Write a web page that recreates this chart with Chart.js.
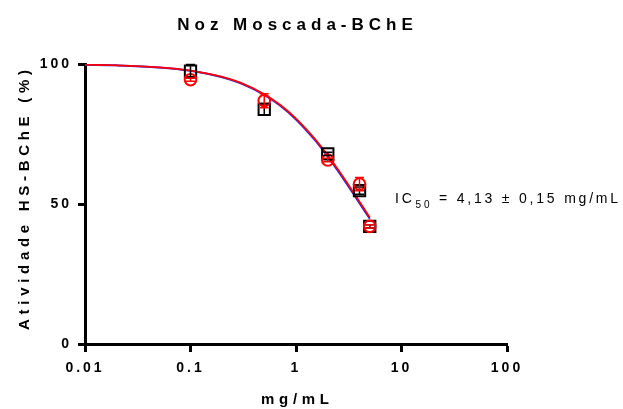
<!DOCTYPE html>
<html>
<head>
<meta charset="utf-8">
<script src="https://cdn.jsdelivr.net/npm/chart.js"></script>
<style>
body{margin:0;background:#fff;}
#wrap{width:623px;height:409px;}
</style>
</head>
<body>
<div id="wrap"><canvas id="chart" width="623" height="409"></canvas></div>
<script>
// measured points (two replicates) and their error bars
var doses = [0.1, 0.5, 2, 4, 5];
var squareVals = [97.4, 83.8, 67.9, 54.8, 42.0];
var squareErr = [2.4, 2.1, 0.6, 1.3, 0.6];
var circleVals = [94.4, 86.9, 65.7, 57.1, 42.0];
var circleErr = [0.6, 2.5, 0.6, 2.4, 0.6];

// fitted curves
var curveX = [0.01, 0.02, 0.05, 0.1, 0.2, 0.3, 0.5, 0.7, 1, 1.5, 2, 2.5, 3, 3.5, 4, 4.5, 5];
var blueCurve = [99.75, 99.51, 98.78, 97.59, 95.29, 93.10, 89.01, 85.26, 80.20, 72.97, 66.94, 61.83, 57.45, 53.64, 50.31, 47.37, 44.75];
var redCurve = [99.76, 99.52, 98.80, 97.64, 95.38, 93.23, 89.20, 85.51, 80.51, 73.36, 67.38, 62.29, 57.92, 54.13, 50.80, 47.86, 45.24];

var xTicks = [0.01, 0.1, 1, 10, 100];
var xTickLabels = ['0.01', '0.1', '1', '10', '100'];
var yTicks = [0, 50, 100];

var chartTitle = 'Noz Moscada-BChE';
var xTitle = 'mg/mL';
var yTitle = 'Atividade HS-BChE (%)';
var icText = ['IC', '50', ' = 4,13 \u00b1 0,15 mg/mL'];

var FONT = '"Liberation Sans", Arial, sans-serif';

function pairs(xs, ys){
    var out = [];
    for (var i = 0; i < xs.length; i++) out.push({x: xs[i], y: ys[i]});
    return out;
}

var spacingPlugin = {
    id: 'spacing',
    beforeDraw: function(chart){ chart.ctx.letterSpacing = '3px'; }
};

var errorBars = {
    id: 'errorBars',
    afterDatasetsDraw: function(chart){
        var ctx = chart.ctx, xs = chart.scales.x, ys = chart.scales.y;
        var sets = [[squareVals, squareErr, '#000'], [circleVals, circleErr, '#ff0000']];
        ctx.save();
        ctx.lineWidth = 1.5;
        sets.forEach(function(s){
            ctx.strokeStyle = s[2];
            for (var i = 0; i < doses.length; i++){
                var px = xs.getPixelForValue(doses[i]);
                var top = ys.getPixelForValue(s[0][i] + s[1][i]);
                var bot = ys.getPixelForValue(s[0][i] - s[1][i]);
                ctx.beginPath();
                ctx.moveTo(px, top); ctx.lineTo(px, bot);
                ctx.moveTo(px - 4.5, top); ctx.lineTo(px + 4.5, top);
                ctx.moveTo(px - 4.5, bot); ctx.lineTo(px + 4.5, bot);
                ctx.stroke();
            }
        });
        ctx.restore();
    }
};

var texts = {
    id: 'texts',
    afterDraw: function(chart){
        var ctx = chart.ctx;
        ctx.save();
        ctx.fillStyle = '#000';
        ctx.textBaseline = 'alphabetic';

        ctx.letterSpacing = '5px';
        ctx.font = 'bold 17px ' + FONT;
        ctx.textAlign = 'center';
        ctx.fillText(chartTitle, 295 + 2.5, 30);

        ctx.letterSpacing = '4.7px';
        ctx.font = 'bold 15px ' + FONT;
        ctx.fillText(xTitle, 295 + 2.35, 404);

        ctx.save();
        ctx.translate(29, 200);
        ctx.rotate(-Math.PI / 2);
        ctx.fillText(yTitle, 2.35, 0);
        ctx.restore();

        ctx.textAlign = 'left';
        ctx.letterSpacing = '2.8px';
        ctx.font = '14px ' + FONT;
        var x = 395;
        ctx.fillText(icText[0], x, 203);
        x += ctx.measureText(icText[0]).width + 1;
        ctx.font = '10px ' + FONT;
        ctx.fillText(icText[1], x, 208);
        x += ctx.measureText(icText[1]).width;
        ctx.font = '14px ' + FONT;
        ctx.fillText(icText[2], x, 203);
        ctx.restore();
    }
};

new Chart(document.getElementById('chart'), {
    type: 'scatter',
    data: {
        datasets: [
            {
                data: pairs(doses, squareVals),
                pointStyle: 'rect', pointRadius: 8, pointHoverRadius: 8,
                borderColor: '#000', backgroundColor: 'rgba(0,0,0,0)', borderWidth: 2,
                order: 2
            },
            {
                data: pairs(doses, circleVals),
                pointStyle: 'circle', pointRadius: 5.8, pointHoverRadius: 5.8,
                borderColor: '#ff0000', backgroundColor: 'rgba(0,0,0,0)', borderWidth: 2,
                order: 1
            },
            {
                data: pairs(curveX, blueCurve), showLine: true, pointRadius: 0,
                borderColor: '#2222ee', borderWidth: 2, cubicInterpolationMode: 'monotone',
                order: 4
            },
            {
                data: pairs(curveX, redCurve), showLine: true, pointRadius: 0,
                borderColor: '#ff0000', borderWidth: 1.8, cubicInterpolationMode: 'monotone',
                order: 3
            }
        ]
    },
    options: {
        responsive: false,
        animation: false,
        events: [],
        layout: {padding: {top: 64, right: 116, bottom: 0, left: 0}},
        plugins: {legend: {display: false}, tooltip: {enabled: false}, title: {display: false}},
        scales: {
            x: {
                type: 'logarithmic', min: 0.01, max: 100,
                afterBuildTicks: function(scale){
                    scale.ticks = xTicks.map(function(v){ return {value: v}; });
                },
                afterFit: function(scale){ scale.height = 65; },
                border: {display: true, color: '#000', width: 3},
                grid: {drawOnChartArea: false, drawTicks: true, tickLength: 8, tickWidth: 3, tickColor: '#000'},
                ticks: {
                    color: '#000', padding: 8, maxRotation: 0, autoSkip: false,
                    font: {family: FONT, size: 14, weight: 'bold'},
                    callback: function(v){
                        var i = xTicks.indexOf(v);
                        return i >= 0 ? xTickLabels[i] : '';
                    }
                }
            },
            y: {
                min: 0, max: 100,
                afterBuildTicks: function(scale){
                    scale.ticks = yTicks.map(function(v){ return {value: v}; });
                },
                afterFit: function(scale){ scale.width = 85; },
                border: {display: true, color: '#000', width: 3},
                grid: {drawOnChartArea: false, drawTicks: true, tickLength: 7, tickWidth: 3, tickColor: '#000'},
                ticks: {
                    color: '#000', padding: 6,
                    font: {family: FONT, size: 14, weight: 'bold'}
                }
            }
        }
    },
    plugins: [spacingPlugin, errorBars, texts]
});
</script>
</body>
</html>
